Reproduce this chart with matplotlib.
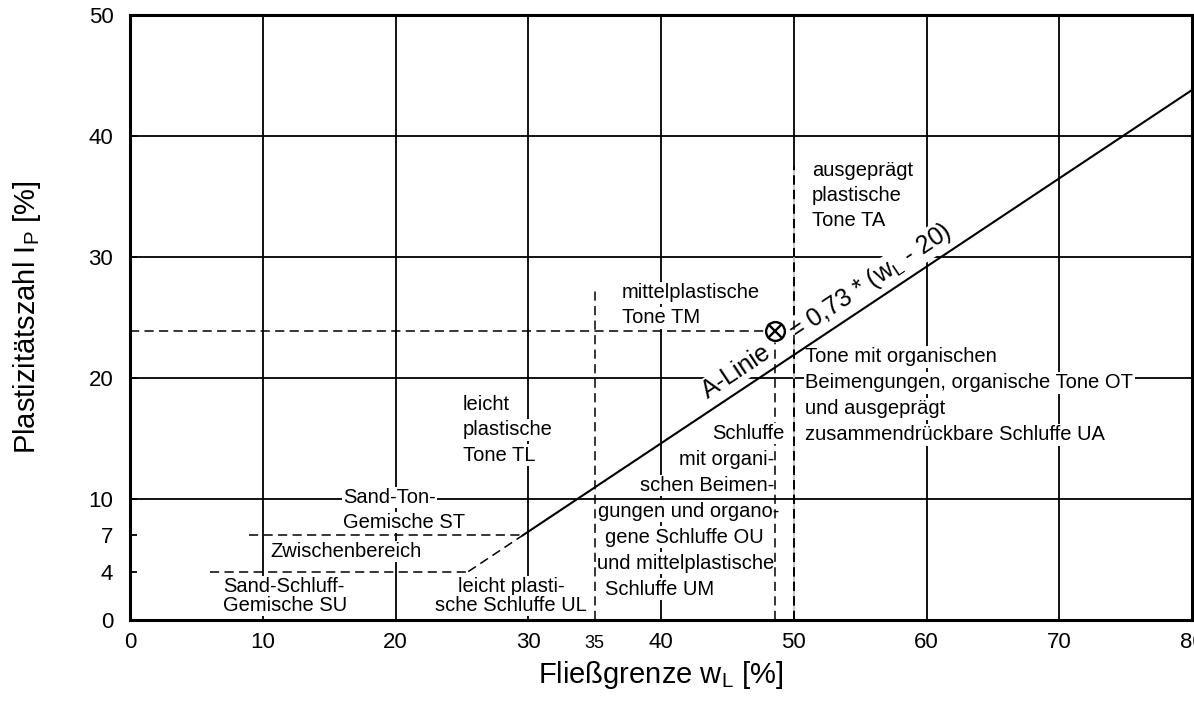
import numpy as np
import matplotlib
matplotlib.use("Agg")
import matplotlib.pyplot as plt

plt.rcParams['font.family'] = ['Liberation Sans', 'DejaVu Sans']
plt.rcParams['mathtext.fontset'] = 'custom'
plt.rcParams['mathtext.rm'] = 'Liberation Sans'

# --- axes and grid -------------------------------------------------------
x_ticks = [0, 10, 20, 30, 40, 50, 60, 70, 80]
x_extra_tick = [35]
y_ticks = [0, 4, 7, 10, 20, 30, 40, 50]
grid_x = [10, 20, 30, 40, 50, 60, 70]
grid_y = [10, 20, 30, 40]

# --- A-Linie: I_P = 0,73 * (w_L - 20) -----------------------------------
a_factor = 0.73
a_base = 20.0
a_ip_dashed = [4.0, 7.0]      # dashed part of the A-line
a_wl_end = 80.0

# --- zone boundaries -----------------------------------------------------
bound_ip4_start = 6.0          # I_P = 4 boundary begins at w_L = 6
bound_ip7_start = 9.0          # I_P = 7 boundary begins at w_L = 9
bound_wl35_top = 27.3
bound_wl50_top = 37.5

# --- sample point --------------------------------------------------------
sample_wl = 48.6
sample_ip = 23.9

# --- zone labels: lines, x, first baseline, alignment, line step (pt) ----
zone_labels = [
    (["ausgeprägt", "plastische", "Tone TA"], 51.36, 36.7, "left", 18.0),
    (["mittelplastische", "Tone TM"], 37.05, 26.6, "left", 18.0),
    (["leicht", "plastische", "Tone TL"], 25.08, 17.36, "left", 18.3),
    (["Sand-Ton-", "Gemische ST"], 16.04, 9.67, "left", 18.0),
    (["Zwischenbereich"], 10.54, 5.2, "left", 18.0),
    (["Sand-Schluff-", "Gemische SU"], 7.0, 2.31, "left", 13.7),
    (["leicht plasti-", "sche Schluffe UL"], 28.7, 2.31, "center", 13.7),
    (["Tone mit organischen", "Beimengungen, organische Tone OT",
      "und ausgeprägt", "zusammendrückbare Schluffe UA"], 50.86, 21.3, "left", 18.7),
]
ou_lines = [
    ("Schluffe", 49.3, "right"),
    ("mit organi-", 48.55, "right"),
    ("schen Beimen-", 48.55, "right"),
    ("gungen und organo-", 48.95, "right"),
    ("gene Schluffe OU", 35.8, "left"),
    ("und mittelplastische", 48.55, "right"),
    ("Schluffe UM", 35.8, "left"),
]
ou_first_baseline = 14.96
ou_step = 18.7

LABEL_SIZE = 14.5
BOX = dict(facecolor='white', edgecolor='none', pad=1.0)

fig = plt.figure(figsize=(11.94, 7.08), dpi=100)
ax = fig.add_axes([130 / 1194, 88 / 708, 1062 / 1194, 605 / 708])
ax.set_xlim(x_ticks[0], x_ticks[-1])
ax.set_ylim(y_ticks[0], y_ticks[-1])

for s in ax.spines.values():
    s.set_linewidth(2.2)
    s.set_zorder(10)

# grid
for gx in grid_x:
    ax.axvline(gx, color='black', lw=1.3, zorder=1)
for gy in grid_y:
    ax.axhline(gy, color='black', lw=1.3, zorder=1)

dash = dict(color='black', lw=1.1, linestyle=(0, (6, 3.5)), zorder=3.5)


def wl_on_a(ip):
    return a_base + ip / a_factor


# boundaries
ax.plot([bound_ip4_start, wl_on_a(4)], [4, 4], **dash)
ax.plot([bound_ip7_start, wl_on_a(7)], [7, 7], **dash)
ax.plot([35, 35], [0, bound_wl35_top], **dash)
ax.plot([50, 50], [0, bound_wl50_top], gapcolor='white', **dash)

# A-line
ax.plot([wl_on_a(a_ip_dashed[0]), wl_on_a(a_ip_dashed[1])], a_ip_dashed, **dash)
ax.plot([wl_on_a(a_ip_dashed[1]), a_wl_end],
        [a_ip_dashed[1], a_factor * (a_wl_end - a_base)],
        color='black', lw=1.5, zorder=4)

# sample guides and marker
ax.plot([0, sample_wl], [sample_ip, sample_ip], **dash)
ax.plot([sample_wl, sample_wl], [0, sample_ip], **dash)
ax.plot(sample_wl, sample_ip, marker='s', ms=16, mfc='white', mec='none',
        ls='none', zorder=5)
ax.plot(sample_wl, sample_ip, marker='o', ms=13.5, mfc='none', mec='black',
        mew=1.7, ls='none', zorder=6)
ax.plot(sample_wl, sample_ip, marker='x', ms=9.5, mec='black', mew=1.7,
        ls='none', zorder=6)


def draw_block(lines, x, y, ha, step, zorder=3):
    for i, line in enumerate(lines):
        ax.annotate(line, xy=(x, y), xytext=(0, -i * step),
                    textcoords='offset points', ha=ha, va='baseline',
                    fontsize=LABEL_SIZE, zorder=zorder, bbox=BOX)


for lines, x, y, ha, step in zone_labels:
    draw_block(lines, x, y, ha, step)

for i, (line, x, ha) in enumerate(ou_lines):
    ax.annotate(line, xy=(x, ou_first_baseline), xytext=(0, -i * ou_step),
                textcoords='offset points', ha=ha, va='baseline',
                fontsize=LABEL_SIZE, zorder=4 if i == 0 else 3, bbox=BOX)

# A-line caption, rotated along the line
p0 = ax.transData.transform((40, a_factor * (40 - a_base)))
p1 = ax.transData.transform((70, a_factor * (70 - a_base)))
ang = np.degrees(np.arctan2(p1[1] - p0[1], p1[0] - p0[0]))
rad = np.radians(ang)
off = 8.0
for txt, wl in [("A-Linie", 44.0), (r"= 0,73 * (w$_\mathregular{L}$ - 20)", 50.6)]:
    ax.annotate(txt, xy=(wl, a_factor * (wl - a_base)),
                xytext=(-np.sin(rad) * off, np.cos(rad) * off),
                textcoords='offset points', rotation=ang,
                rotation_mode='anchor', ha='left', va='baseline',
                fontsize=18, zorder=3, bbox=dict(facecolor='white',
                                                 edgecolor='none', pad=0.5))

# ticks
ax.set_xticks(x_ticks)
ax.set_xticks(x_extra_tick, minor=True)
ax.set_xticklabels([str(v) for v in x_ticks])
ax.set_xticklabels([str(v) for v in x_extra_tick], minor=True)
ax.set_yticks(y_ticks)
ax.set_yticklabels([str(v) for v in y_ticks])
ax.tick_params(axis='x', which='major', length=0, pad=9, labelsize=16)
ax.tick_params(axis='x', which='minor', length=0, pad=11, labelsize=13)
ax.tick_params(axis='y', direction='in', length=5, width=1.3, pad=12,
               labelsize=16)

ax.set_xlabel(r"Fließgrenze w$_\mathregular{L}$ [%]", fontsize=21, labelpad=4)
ax.set_ylabel(r"Plastizitätszahl I$_\mathregular{P}$ [%]", fontsize=21)
ax.yaxis.set_label_coords(-0.097, 0.5)
ax.yaxis.label.set_va('center')

fig.savefig("out.png", dpi=100)
